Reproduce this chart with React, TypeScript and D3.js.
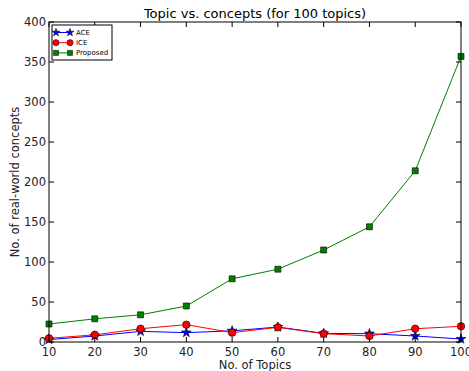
import React, { useEffect, useRef } from "react";
import * as d3 from "d3";

const topics = [10, 20, 30, 40, 50, 60, 70, 80, 90, 100];
const ace = [3, 7.5, 13.3, 11.7, 14, 18.7, 10.8, 10.4, 7.5, 3.7];
const ice = [4.6, 9, 16.6, 21.7, 11.7, 18.3, 10.4, 7.5, 16.6, 19.6];
const proposed = [22.5, 29, 34, 45, 79, 91, 115, 144, 214, 357];
const xTicks = [10, 20, 30, 40, 50, 60, 70, 80, 90, 100];
const yTicks = [0, 50, 100, 150, 200, 250, 300, 350, 400];

const series = [
  { name: "ACE", values: ace, color: "#0000ff", marker: "star" },
  { name: "ICE", values: ice, color: "#ff0000", marker: "circle" },
  { name: "Proposed", values: proposed, color: "#008000", marker: "square" },
];

function App() {
  const ref = useRef(null);

  useEffect(() => {
    const svg = d3.select(ref.current);
    svg.selectAll("*").remove();
    const font = "DejaVu Sans, sans-serif";
    const left = 49, right = 461, top = 22, bottom = 342;

    const x = d3.scaleLinear().domain([10, 100]).range([left, right]);
    const y = d3.scaleLinear().domain([0, 400]).range([bottom, top]);

    const g = svg.append("g");

    // lines and markers
    series.forEach((s) => {
      const line = d3
        .line()
        .x((d, i) => x(topics[i]))
        .y((d) => y(d));
      g.append("path")
        .datum(s.values)
        .attr("d", line)
        .attr("fill", "none")
        .attr("stroke", s.color)
        .attr("stroke-width", 1);
      const sym =
        s.marker === "star"
          ? d3.symbol(d3.symbolStar, 30)
          : s.marker === "circle"
          ? d3.symbol(d3.symbolCircle, 44)
          : d3.symbol(d3.symbolSquare, 36);
      g.selectAll(null)
        .data(s.values)
        .enter()
        .append("path")
        .attr("d", sym)
        .attr("transform", (d, i) => `translate(${x(topics[i])},${y(d)})`)
        .attr("fill", s.color)
        .attr("stroke", "black")
        .attr("stroke-width", 0.6);
    });

    // frame
    svg
      .append("rect")
      .attr("x", left)
      .attr("y", top)
      .attr("width", right - left)
      .attr("height", bottom - top)
      .attr("fill", "none")
      .attr("stroke", "black")
      .attr("stroke-width", 1);

    // ticks inward on all sides
    xTicks.forEach((t) => {
      svg.append("line").attr("x1", x(t)).attr("x2", x(t)).attr("y1", bottom).attr("y2", bottom - 5).attr("stroke", "black");
      svg.append("line").attr("x1", x(t)).attr("x2", x(t)).attr("y1", top).attr("y2", top + 5).attr("stroke", "black");
      svg
        .append("text")
        .attr("x", x(t))
        .attr("y", bottom + 14)
        .attr("text-anchor", "middle")
        .attr("font-family", font)
        .attr("font-size", 11.5)
        .attr("fill", "#222")
        .text(t);
    });
    yTicks.forEach((t) => {
      svg.append("line").attr("x1", left).attr("x2", left + 5).attr("y1", y(t)).attr("y2", y(t)).attr("stroke", "black");
      svg.append("line").attr("x1", right).attr("x2", right - 5).attr("y1", y(t)).attr("y2", y(t)).attr("stroke", "black");
      svg
        .append("text")
        .attr("x", left - 3)
        .attr("y", y(t) + 4)
        .attr("text-anchor", "end")
        .attr("font-family", font)
        .attr("font-size", 11.5)
        .attr("fill", "#222")
        .text(t);
    });

    // title and axis labels
    svg
      .append("text")
      .attr("x", (left + right) / 2)
      .attr("y", 18)
      .attr("text-anchor", "middle")
      .attr("font-family", font)
      .attr("font-size", 13)
      .text("Topic vs. concepts (for 100 topics)");
    svg
      .append("text")
      .attr("x", (left + right) / 2)
      .attr("y", 369)
      .attr("text-anchor", "middle")
      .attr("font-family", font)
      .attr("font-size", 11.5)
      .attr("fill", "#222")
      .text("No. of Topics");
    svg
      .append("text")
      .attr("transform", `translate(19,${(top + bottom) / 2}) rotate(-90)`)
      .attr("text-anchor", "middle")
      .attr("font-family", font)
      .attr("font-size", 11.5)
      .attr("fill", "#222")
      .text("No. of real-world concepts");

    // legend
    const lg = svg.append("g");
    lg.append("rect")
      .attr("x", 52)
      .attr("y", 25)
      .attr("width", 60)
      .attr("height", 35)
      .attr("fill", "white")
      .attr("stroke", "black")
      .attr("stroke-width", 1);
    series.forEach((s, i) => {
      const ly = 32.5 + i * 10.2;
      lg.append("line").attr("x1", 56).attr("x2", 70).attr("y1", ly).attr("y2", ly).attr("stroke", s.color);
      const sym =
        s.marker === "star"
          ? d3.symbol(d3.symbolStar, 20)
          : s.marker === "circle"
          ? d3.symbol(d3.symbolCircle, 30)
          : d3.symbol(d3.symbolSquare, 26);
      [56, 70].forEach((px) => {
        lg.append("path")
          .attr("d", sym)
          .attr("transform", `translate(${px},${ly})`)
          .attr("fill", s.color)
          .attr("stroke", "black")
          .attr("stroke-width", 0.5);
      });
      lg.append("text")
        .attr("x", 76)
        .attr("y", ly + 2.5)
        .attr("font-family", font)
        .attr("font-size", 7)
        .text(s.name);
    });
  }, []);

  return (
    <svg
      ref={ref}
      width={469}
      height={371}
      style={{ position: "absolute", left: 0, top: 0, background: "white" }}
    />
  );
}

export default App;
